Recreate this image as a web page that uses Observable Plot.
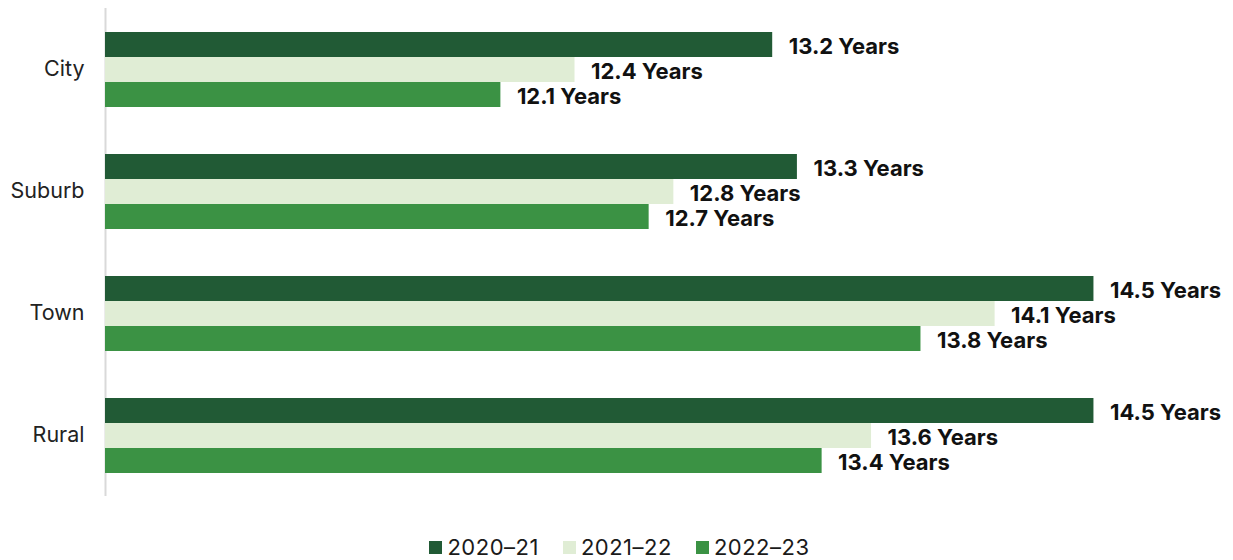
<!DOCTYPE html>
<html>
<head>
<meta charset="utf-8">
<script src="https://cdn.jsdelivr.net/npm/d3@7"></script>
<script src="https://cdn.jsdelivr.net/npm/@observablehq/plot@0.6"></script>
<style>
  html, body { margin: 0; padding: 0; background: #fff; }
  body { width: 1233px; font-family: Inter, Lato, sans-serif; }
  #legend { display: flex; justify-content: center; align-items: center; gap: 24px; font-size: 22px; letter-spacing: 0.5px; color: #1a1a1a; margin-top: 26px; padding-left: 6px; line-height: 1;}
  .item { display: flex; align-items: center; gap: 5px; }
  .sw { width: 13px; height: 13px; display: inline-block; }
</style>
</head>
<body>
<div id="chart"></div>
<div id="legend"></div>
<script>
const categories = ["City", "Suburb", "Town", "Rural"];
const years = ["2020–21", "2021–22", "2022–23"];
const colors = ["#215a35", "#e0edd5", "#3b9244"];
const values2020 = [13.2, 13.3, 14.5, 14.5];
const values2021 = [12.4, 12.8, 14.1, 13.6];
const values2022 = [12.1, 12.7, 13.8, 13.4];
const baseline = 10.5;

const series = [values2020, values2021, values2022];
const data = categories.flatMap((c, i) => years.map((y, j) => ({category: c, year: y, value: series[j][i]})));

const chart = Plot.plot({
  width: 1233,
  height: 510,
  marginTop: 8,
  marginBottom: 14,
  marginLeft: 105,
  marginRight: 16,
  style: {fontFamily: "Inter, Lato, sans-serif", fontSize: "21.5px", color: "#222"},
  x: {domain: [baseline, 15], axis: null},
  y: {domain: years, axis: null, paddingInner: 0, paddingOuter: 0.9},
  fy: {domain: categories, padding: 0, label: null, axis: "left", tickSize: 0, tickPadding: 21},
  color: {domain: years, range: colors},
  marks: [
    Plot.ruleX([baseline], {stroke: "#d9d9d9", strokeWidth: 2}),
    Plot.barX(data, {fy: "category", y: "year", x1: baseline, x2: "value", fill: "year"}),
    Plot.text(data, {fy: "category", y: "year", x: "value", text: d => `${d.value.toFixed(1)} Years`,
      textAnchor: "start", dx: 16, dy: 2, fontWeight: "bold", fontSize: 22, fill: "#111"})
  ]
});
document.getElementById("chart").appendChild(chart);

const legend = d3.select("#legend");
years.forEach((y, i) => {
  const it = legend.append("div").attr("class", "item");
  it.append("span").attr("class", "sw").style("background", colors[i]);
  it.append("span").text(y);
});
</script>
</body>
</html>
